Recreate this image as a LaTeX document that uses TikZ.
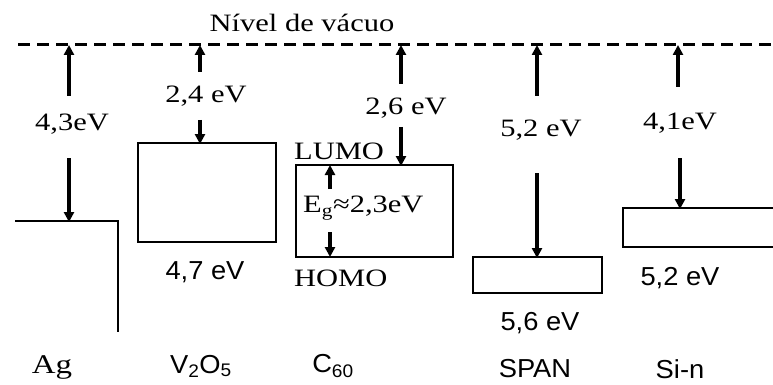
\documentclass[tikz,border=0pt]{standalone}
\usepackage{fontspec}
\setmainfont{Liberation Serif}
\newfontfamily\labsf[FakeStretch=1.05]{Liberation Sans}
\newfontfamily\labrm[FakeStretch=1.22]{Liberation Serif}
\usetikzlibrary{arrows.meta}
\begin{document}
\begin{tikzpicture}[x=1pt,y=-1pt,
  arr/.style={line width=3.5pt,-{Triangle[width=10pt,length=10pt]},shorten >=-1pt},
  boxsty/.style={draw,line width=2.6pt,inner sep=0pt},
  rmlab/.style={font=\labrm\fontsize{25}{25}\selectfont,inner sep=1pt},
  sflab/.style={font=\labsf\fontsize{26}{26}\selectfont,inner sep=1pt},
  vac/.style={line width=3pt,dash pattern=on 12pt off 7pt}]
\useasboundingbox (0,0) rectangle (773,385);
% vacuum level
\coordinate (vacL) at (18,45);
\coordinate (vacR) at (773,45);
\draw[vac] (vacL) -- (vacR);
\node[rmlab] (vactext) at (302,23) {Nível de vácuo};
% Ag
\coordinate (agT) at (69,46);
\coordinate (agU) at (69,96);
\coordinate (agD) at (69,158);
\coordinate (agB) at (69,221);
\coordinate (agL) at (15,221);
\coordinate (agC) at (118,221);
\coordinate (agE) at (118,332);
\draw[line width=2.6pt] (agL) -- (agC) -- (agE);
\draw[arr] (agU) -- (agT);
\draw[arr] (agD) -- (agB);
\node[rmlab] (agwf) at (72,124) {4,3eV};
\node[rmlab,font=\labrm\fontsize{27}{27}\selectfont] (agname) at (52,367) {Ag};
% V2O5
\node[boxsty,minimum width=138pt,minimum height=99pt] (vbox) at (207,192.5) {};
\coordinate (vT) at (200,46);
\coordinate (vU) at (200,72);
\coordinate (vD) at (200,120);
\coordinate (vB) at (200,143);
\draw[arr] (vU) -- (vT);
\draw[arr] (vD) -- (vB);
\node[rmlab] (vea) at (206,96) {2,4 eV};
\node[sflab] (vie) at (205,272) {4,7 eV};
\node[sflab] (vname) at (201,366) {V\textsubscript{2}O\textsubscript{5}};
% C60
\node[boxsty,minimum width=157pt,minimum height=92pt] (cbox) at (374.5,211) {};
\coordinate (cT) at (401,46);
\coordinate (cU) at (401,84);
\coordinate (cD) at (401,127);
\coordinate (cB) at (401,165);
\draw[arr] (cU) -- (cT);
\draw[arr] (cD) -- (cB);
\node[rmlab] (cea) at (406,108) {2,6 eV};
\node[rmlab,anchor=west] (lumo) at (293,151) {LUMO};
\node[rmlab,anchor=west] (homo) at (293,278) {HOMO};
\coordinate (gU) at (330,189);
\coordinate (gT) at (330,166);
\coordinate (gD) at (330,232);
\coordinate (gB) at (330,256);
\draw[arr] (gU) -- (gT);
\draw[arr] (gD) -- (gB);
\node[rmlab,anchor=west] (eg) at (302,208) {E\textsubscript{g}≈2,3eV};
\node[sflab] (cname) at (333,366) {C\textsubscript{60}};
% SPAN
\node[boxsty,minimum width=129pt,minimum height=36pt] (sbox) at (537.5,275) {};
\coordinate (sT) at (537,46);
\coordinate (sU) at (537,96);
\coordinate (sD) at (537,173);
\coordinate (sB) at (537,257);
\draw[arr] (sU) -- (sT);
\draw[arr] (sD) -- (sB);
\node[rmlab] (sie) at (541,130) {5,2 eV};
\node[sflab] (sea) at (540,323) {5,6 eV};
\node[sflab] (sname) at (535,369) {SPAN};
% Si-n
\node[boxsty,minimum width=152pt,minimum height=39pt] (nbox) at (699,227.5) {};
\coordinate (nT) at (678,46);
\coordinate (nU) at (678,87);
\coordinate (nD) at (680,158);
\coordinate (nB) at (680,208);
\draw[arr] (nU) -- (nT);
\draw[arr] (nD) -- (nB);
\node[rmlab] (nwf) at (680,123) {4,1eV};
\node[sflab] (nea) at (680,278) {5,2 eV};
\node[sflab] (nname) at (680,369) {Si-n};
\end{tikzpicture}
\end{document}
